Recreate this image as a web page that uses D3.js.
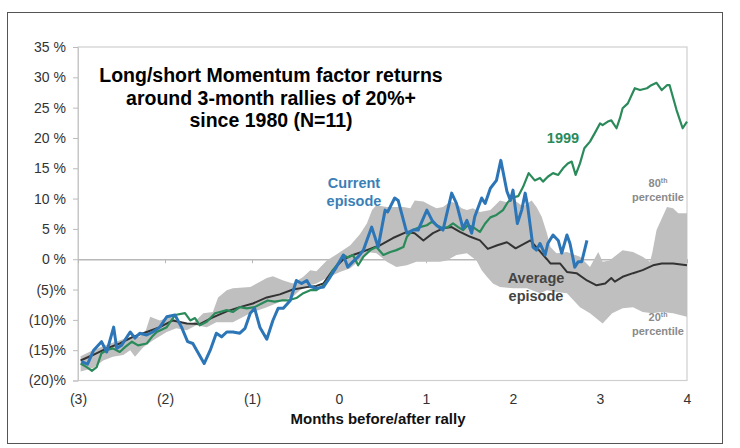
<!DOCTYPE html>
<html><head><meta charset="utf-8">
<script src="https://cdn.jsdelivr.net/npm/d3@7"></script>
<style>
html,body{margin:0;padding:0;background:#fff;}
svg{display:block;font-family:"Liberation Sans",Arial,sans-serif;}
</style></head>
<body><svg id="c" width="740" height="448"></svg>
<script>
// ---- data ----
const titleLines = ["Long/short Momentum factor returns", "around 3-month rallies of 20%+", "since 1980 (N=11)"];
const xTicks = [-3, -2, -1, 0, 1, 2, 3, 4];
const xTickLabels = ["(3)", "(2)", "(1)", "0", "1", "2", "3", "4"];
const yTicks = [35, 30, 25, 20, 15, 10, 5, 0, -5, -10, -15, -20];
const yTickLabels = ["35 %", "30 %", "25 %", "20 %", "15 %", "10 %", "5 %", "0 %", "(5)%", "(10)%", "(15)%", "(20)%"];
const xTitle = "Months before/after rally";

const currentMonths = [-2.96,-2.89,-2.82,-2.73,-2.67,-2.59,-2.555,-2.50,-2.40,-2.345,-2.29,-2.21,-2.14,-2.06,-1.98,-1.885,-1.81,-1.74,-1.68,-1.55,-1.48,-1.41,-1.35,-1.29,-1.22,-1.14,-1.08,-1.02,-0.97,-0.91,-0.83,-0.76,-0.70,-0.64,-0.56,-0.49,-0.43,-0.37,-0.33,-0.26,-0.18,-0.10,-0.03,0.05,0.10,0.16,0.22,0.28,0.33,0.376,0.45,0.53,0.56,0.64,0.68,0.78,0.85,0.91,1.01,1.07,1.12,1.195,1.295,1.35,1.425,1.47,1.525,1.56,1.64,1.68,1.74,1.81,1.86,1.93,1.97,2.00,2.05,2.10,2.14,2.17,2.23,2.27,2.31,2.37,2.40,2.46,2.52,2.56,2.62,2.655,2.71,2.75,2.79,2.85];
const currentValues = [-16.9,-17.3,-15.0,-13.6,-15.3,-11.2,-14.7,-14.2,-12.0,-13.0,-12.2,-12.5,-12.0,-11.2,-9.5,-9.2,-11.2,-13.6,-13.9,-17.2,-15.0,-12.2,-12.8,-12.0,-12.0,-12.2,-11.4,-8.9,-8.1,-11.2,-13.2,-10.1,-8.1,-8.1,-6.8,-3.5,-4.0,-3.5,-4.5,-4.8,-4.6,-2.9,-1.3,0.7,-1.3,-0.4,0.4,1.5,3.5,5.3,2.0,8.1,7.8,10.1,9.7,4.3,4.8,4.8,8.1,6.4,5.6,4.8,10.9,9.2,5.1,6.4,4.3,7.0,10.1,9.2,11.7,13.0,16.3,11.2,9.7,11.4,5.9,8.1,10.9,8.6,2.0,1.5,2.6,0.7,2.6,4.0,3.1,1.0,4.0,2.6,-1.3,-0.4,-0.4,3.1];

const y1999Months = [-2.97,-2.90,-2.84,-2.785,-2.73,-2.655,-2.60,-2.52,-2.46,-2.38,-2.31,-2.21,-2.15,-2.095,-1.98,-1.885,-1.77,-1.71,-1.655,-1.60,-1.52,-1.425,-1.37,-1.29,-1.22,-1.14,-1.06,-0.97,-0.89,-0.82,-0.74,-0.66,-0.59,-0.49,-0.41,-0.33,-0.26,-0.18,-0.13,-0.07,-0.01,0.05,0.10,0.16,0.22,0.28,0.36,0.43,0.51,0.59,0.66,0.74,0.78,0.85,0.93,1.01,1.07,1.12,1.195,1.25,1.31,1.37,1.425,1.48,1.54,1.62,1.68,1.74,1.81,1.885,1.94,2.00,2.06,2.115,2.18,2.25,2.31,2.345,2.40,2.46,2.52,2.575,2.63,2.675,2.72,2.77,2.82,2.885,2.94,3.00,3.03,3.09,3.13,3.19,3.23,3.26,3.32,3.40,3.46,3.54,3.59,3.65,3.71,3.77,3.80,3.88,3.95,4.00];
const y1999Values = [-17.2,-17.8,-18.4,-17.8,-15.5,-14.9,-14.7,-15.3,-14.5,-13.6,-14.2,-13.9,-12.8,-12.0,-11.2,-9.2,-8.9,-10.1,-9.7,-10.9,-10.3,-8.9,-8.7,-8.4,-8.7,-7.9,-8.1,-7.9,-7.3,-6.8,-7.0,-6.8,-6.8,-6.4,-5.6,-5.1,-5.1,-4.3,-3.5,-1.8,-0.7,0.7,0.3,0.7,-1.0,0.4,1.5,2.0,0.7,1.2,1.5,2.0,3.7,4.8,5.3,5.6,6.2,5.6,5.1,5.3,5.9,5.3,4.8,5.6,5.3,4.5,5.9,6.9,7.3,8.1,9.4,10.2,10.4,11.9,14.2,13.0,13.4,12.8,13.6,14.2,13.9,15.0,15.8,16.1,13.9,15.8,18.3,19.4,20.8,22.4,22.1,22.7,22.9,21.6,23.3,24.9,25.7,28.2,27.9,28.2,28.7,29.1,27.9,28.7,28.7,24.6,21.6,22.7];

const averageMonths = [-2.97,-2.83,-2.67,-2.52,-2.37,-2.21,-2.06,-1.91,-1.75,-1.60,-1.45,-1.29,-1.14,-0.99,-0.83,-0.68,-0.53,-0.37,-0.26,-0.18,-0.07,0.05,0.16,0.32,0.47,0.62,0.78,0.87,0.97,1.08,1.195,1.295,1.39,1.51,1.62,1.71,1.82,1.93,2.03,2.20,2.23,2.39,2.43,2.54,2.62,2.73,2.85,2.96,3.06,3.13,3.17,3.26,3.38,3.49,3.61,3.71,3.84,4.00];
const averageValues = [-16.7,-15.8,-14.7,-13.9,-12.8,-12.0,-11.2,-10.1,-10.6,-10.7,-9.6,-8.6,-7.9,-7.3,-6.3,-5.8,-5.0,-4.6,-4.4,-4.0,-1.8,0.0,0.7,1.5,2.3,3.5,4.5,4.3,3.1,4.3,5.1,5.3,4.5,3.7,3.1,1.7,2.3,2.8,1.8,3.1,2.6,0.0,-0.7,-0.7,-2.1,-2.3,-3.5,-4.3,-4.0,-3.1,-3.7,-2.9,-2.3,-1.8,-1.0,-0.7,-0.7,-1.0];

const p80Months = [-2.97,-2.83,-2.63,-2.44,-2.29,-2.22,-2.17,-2.06,-1.94,-1.83,-1.68,-1.56,-1.45,-1.39,-1.29,-1.22,-1.02,-0.83,-0.76,-0.64,-0.53,-0.41,-0.33,-0.26,-0.14,-0.03,0.13,0.24,0.32,0.38,0.43,0.55,0.66,0.74,0.82,0.87,0.97,1.05,1.12,1.195,1.28,1.35,1.41,1.47,1.54,1.62,1.74,1.85,1.93,2.00,2.115,2.215,2.27,2.33,2.39,2.43,2.50,2.62,2.77,2.885,2.98,3.03,3.11,3.19,3.26,3.38,3.49,3.575,3.60,3.65,3.77,3.84,3.90,4.00];
const p80Values = [-16.0,-15.0,-13.9,-13.0,-12.8,-11.7,-9.5,-10.1,-9.5,-10.3,-10.6,-8.9,-8.7,-6.3,-5.1,-4.8,-4.6,-3.1,-2.8,-3.5,-4.0,-2.9,-1.8,-2.0,-0.2,0.8,2.3,4.1,5.9,8.1,8.9,8.6,8.6,8.6,8.4,9.7,9.5,8.9,8.4,8.6,9.5,9.2,8.4,8.1,8.4,7.8,8.1,9.7,9.4,9.9,8.7,9.7,8.6,7.0,4.3,2.0,1.0,1.2,0.4,-1.3,1.2,-0.4,-0.2,0.7,1.5,1.2,0.4,-0.4,1.0,4.8,8.6,8.4,7.6,7.6];

const p20Months = [-2.97,-2.83,-2.71,-2.60,-2.48,-2.40,-2.345,-2.25,-2.14,-1.98,-1.87,-1.75,-1.64,-1.52,-1.41,-1.22,-1.02,-0.83,-0.64,-0.53,-0.45,-0.33,-0.26,-0.14,0.01,0.13,0.26,0.32,0.43,0.55,0.66,0.78,0.89,1.01,1.16,1.24,1.35,1.47,1.58,1.64,1.70,1.77,1.85,2.00,2.16,2.31,2.39,2.50,2.62,2.77,2.885,3.03,3.14,3.26,3.38,3.49,3.60,3.71,3.84,4.00];
const p20Values = [-18.5,-18.0,-16.7,-16.1,-15.8,-15.0,-16.1,-14.5,-13.4,-12.0,-11.4,-11.7,-10.9,-11.2,-10.4,-10.4,-8.9,-7.9,-6.8,-6.2,-5.1,-4.3,-4.0,-3.1,-2.1,-1.5,0.1,1.2,1.0,-0.4,-1.3,-1.0,-0.4,-0.4,-0.4,-0.2,0.7,1.0,-0.2,-1.8,-2.9,-4.0,-4.6,-4.8,-4.8,-5.6,-5.1,-5.4,-5.6,-7.9,-8.9,-10.6,-8.9,-8.1,-7.9,-8.7,-8.9,-8.7,-8.9,-9.5];

// ---- chart ----
const FONT = "Liberation Sans, Arial, sans-serif";
const svg = d3.select("#c");
const x = d3.scaleLinear().domain([-3, 4]).range([78, 687]);
const y = d3.scaleLinear().domain([-20, 35]).range([380.5, 47]);

// outer frame
svg.append("rect").attr("x", 7.5).attr("y", 12.5).attr("width", 715).attr("height", 431)
  .attr("fill", "#fff").attr("stroke", "#555").attr("stroke-width", 1);

// plot frame
svg.append("rect").attr("x", x(-3)).attr("y", y(35)).attr("width", x(4) - x(-3)).attr("height", y(-20) - y(35))
  .attr("fill", "none").attr("stroke", "#cfcfcf").attr("stroke-width", 1.2);

// y axis
const yAxis = svg.append("g").attr("transform", `translate(${x(-3)},0)`)
  .call(d3.axisLeft(y).tickValues(yTicks).tickFormat((d, i) => yTickLabels[i]).tickSize(5).tickPadding(7));
yAxis.select(".domain").attr("stroke", "#c8c8c8");
yAxis.selectAll(".tick line").attr("stroke", "#bbb");
yAxis.selectAll(".tick text").attr("font-size", 14).attr("fill", "#333").attr("font-family", FONT);

// x labels at bottom
const xAxis = svg.append("g").attr("transform", `translate(0,${y(-20)})`)
  .call(d3.axisBottom(x).tickValues(xTicks).tickFormat((d, i) => xTickLabels[i]).tickSize(0).tickPadding(14));
xAxis.select(".domain").remove();
xAxis.selectAll(".tick text").attr("font-size", 14).attr("fill", "#333").attr("font-family", FONT);

// zero line with ticks
const zAxis = svg.append("g").attr("transform", `translate(0,${y(0)})`)
  .call(d3.axisBottom(x).tickValues(xTicks).tickFormat("").tickSize(4).tickSizeOuter(0));
zAxis.select(".domain").attr("stroke", "#b8b8b8").attr("stroke-width", 1.3);
zAxis.selectAll(".tick line").attr("stroke", "#b8b8b8");

// band
const upper = p80Months.map((m, i) => [x(m), y(p80Values[i])]);
const lower = p20Months.map((m, i) => [x(m), y(p20Values[i])]).reverse();
svg.append("path").attr("d", d3.line()(upper.concat(lower)) + "Z")
  .attr("fill", "#bfbfbf").attr("stroke", "none");

const line = d3.line().x(d => x(d[0])).y(d => y(d[1]));
function series(months, values) { return months.map((m, i) => [m, values[i]]); }

svg.append("path").attr("d", line(series(averageMonths, averageValues)))
  .attr("fill", "none").attr("stroke", "#333").attr("stroke-width", 2).attr("stroke-linejoin", "round");
svg.append("path").attr("d", line(series(y1999Months, y1999Values)))
  .attr("fill", "none").attr("stroke", "#2a8a5a").attr("stroke-width", 2.2).attr("stroke-linejoin", "round");
svg.append("path").attr("d", line(series(currentMonths, currentValues)))
  .attr("fill", "none").attr("stroke", "#2c76b8").attr("stroke-width", 3).attr("stroke-linejoin", "round");

// title
const title = svg.append("text").attr("x", 271).attr("y", 82).attr("text-anchor", "middle")
  .attr("font-size", 19.5).attr("font-weight", "bold").attr("fill", "#000");
titleLines.forEach((t, i) => title.append("tspan").attr("x", 271).attr("dy", i === 0 ? 0 : 22.5).text(t));

// annotations
function label(lines, cx, cy, color, size, lh) {
  const t = svg.append("text").attr("x", cx).attr("y", cy).attr("text-anchor", "middle")
    .attr("font-size", size).attr("font-weight", "bold").attr("fill", color);
  lines.forEach((s, i) => t.append("tspan").attr("x", cx).attr("dy", i === 0 ? 0 : lh).text(s));
  return t;
}
label(["Current", "episode"], 354, 188, "#3b7fb6", 14.5, 17.5);
label(["1999"], 563, 143, "#2a8a5a", 14.5, 17);
label(["Average", "episode"], 536, 283, "#444", 14.5, 17.5);

function pct(sup, cx, cy) {
  const t = svg.append("text").attr("x", cx).attr("y", cy).attr("text-anchor", "middle")
    .attr("font-size", 11).attr("font-weight", "bold").attr("fill", "#8a8a8a");
  t.append("tspan").attr("x", cx).text(sup);
  t.append("tspan").attr("font-size", 7).attr("dy", -4).text("th");
  svg.append("text").attr("x", cx).attr("y", cy + 14).attr("text-anchor", "middle")
    .attr("font-size", 11).attr("font-weight", "bold").attr("fill", "#8a8a8a").text("percentile");
}
pct("80", 658, 187);
pct("20", 658, 321);

// x title
svg.append("text").attr("x", 378).attr("y", 424).attr("text-anchor", "middle")
  .attr("font-size", 15).attr("font-weight", "bold").attr("fill", "#111").text(xTitle);
</script></body></html>
